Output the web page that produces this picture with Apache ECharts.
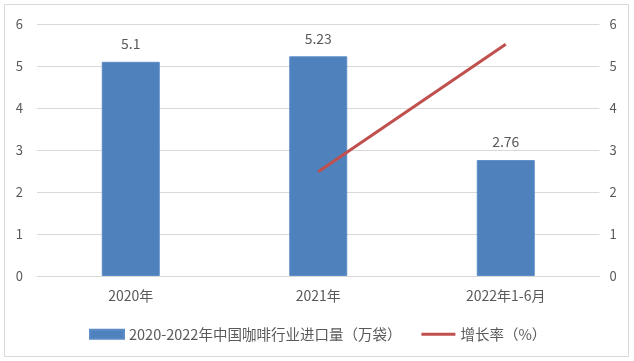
<!DOCTYPE html>
<html>
<head>
<meta charset="utf-8">
<script src="https://cdn.jsdelivr.net/npm/echarts@6/dist/echarts.min.js"></script>
<style>
html,body{margin:0;padding:0;background:#fff;}
#c{width:634px;height:361px;}
</style>
</head>
<body>
<div id="c"></div>
<script>
var categories = ['2020年', '2021年', '2022年1-6月'];
var importVolume = [5.1, 5.23, 2.76];
var growthRate = [null, 2.48, 5.52];
var barName = '2020-2022年中国咖啡行业进口量（万袋）';
var lineName = '增长率（%）';

var FONT = '"Noto Sans CJK SC", "Microsoft YaHei", sans-serif';
var TXT = '#595959';
var chart = echarts.init(document.getElementById('c'));
chart.setOption({
  animation: false,
  textStyle: { fontFamily: FONT },
  graphic: [{
    type: 'rect', silent: true,
    shape: { x: 4.5, y: 4.5, width: 624, height: 352 },
    style: { fill: 'none', stroke: '#d9d9d9', lineWidth: 1 }
  }],
  grid: { left: 37, right: 34.5, top: 24, bottom: 85 },
  legend: {
    left: 84, top: 322,
    itemWidth: 34, itemHeight: 9, itemGap: 20,
    textStyle: { fontSize: 14.5, color: TXT, fontFamily: FONT },
    data: [
      { name: barName, icon: 'rect' },
      { name: lineName, icon: 'path://M0,0 L36,0 L36,3 L0,3 Z', itemStyle: { color: '#c0504d' } }
    ]
  },
  xAxis: {
    type: 'category',
    data: categories,
    axisLine: { lineStyle: { color: '#d9d9d9' } },
    axisTick: { show: false },
    axisLabel: { fontSize: 14, color: TXT, margin: 13, fontFamily: FONT }
  },
  yAxis: [{
    type: 'value', min: 0, max: 6, interval: 1,
    axisLine: { show: false }, axisTick: { show: false },
    axisLabel: { fontSize: 13, color: TXT, margin: 14, fontFamily: FONT },
    splitLine: { lineStyle: { color: '#d9d9d9', width: 1 } }
  }, {
    type: 'value', min: 0, max: 6, interval: 1,
    axisLine: { show: false }, axisTick: { show: false },
    axisLabel: { fontSize: 13, color: TXT, margin: 10, fontFamily: FONT },
    splitLine: { show: false }
  }],
  series: [{
    name: barName,
    type: 'bar',
    data: importVolume,
    barWidth: 58,
    itemStyle: { color: '#4f81bd', borderColor: '#5b8cc6', borderWidth: 1 },
    label: { show: true, position: 'top', distance: 11, fontSize: 14, color: TXT, fontFamily: FONT }
  }, {
    name: lineName,
    type: 'line',
    yAxisIndex: 1,
    data: growthRate,
    symbol: 'none',
    lineStyle: { color: '#c0504d', width: 3 },
    itemStyle: { color: '#c0504d' }
  }]
});
</script>
</body>
</html>
